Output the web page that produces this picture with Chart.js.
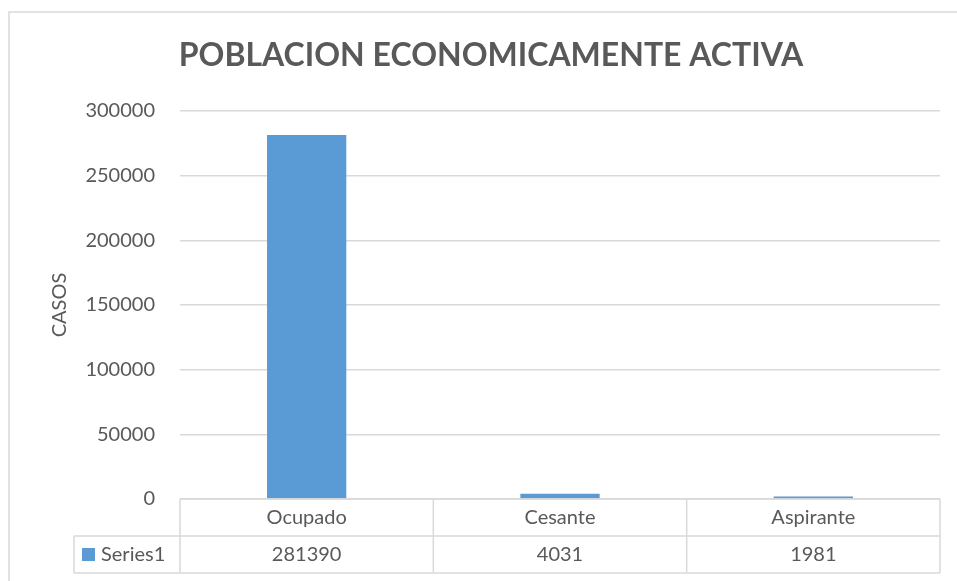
<!DOCTYPE html>
<html>
<head>
<meta charset="utf-8">
<script src="https://cdn.jsdelivr.net/npm/chart.js@4"></script>
<style>
  html, body { margin: 0; padding: 0; background: #fff; }
  #wrap { width: 957px; height: 581px; }
</style>
</head>
<body>
<div id="wrap"><canvas id="chart" width="957" height="581"></canvas></div>
<script>
const categories = ["Ocupado", "Cesante", "Aspirante"];
const series1 = [281390, 4031, 1981];
const yTicks = [0, 50000, 100000, 150000, 200000, 250000, 300000];
const chartTitle = "POBLACION ECONOMICAMENTE ACTIVA";

const textColor = "#595959";
const lineColor = "#d9d9d9";
const barColor = "#5b9bd5";
const fontFamily = "Lato, 'Open Sans', sans-serif";

// marco exterior y titulo
const frame = {
  id: "frame",
  beforeDraw(chart) {
    const ctx = chart.ctx;
    ctx.save();
    ctx.strokeStyle = lineColor;
    ctx.lineWidth = 1.5;
    ctx.strokeRect(9, 12, 960, 600);
    ctx.fillStyle = textColor;
    ctx.font = "bold 32px " + fontFamily;
    ctx.textAlign = "center";
    ctx.textBaseline = "middle";
    ctx.fillText(chartTitle, 491, 56);
    ctx.restore();
  }
};

// tabla de datos bajo el eje x
const dataTable = {
  id: "dataTable",
  afterDraw(chart) {
    const ctx = chart.ctx;
    const area = chart.chartArea;
    const x = chart.scales.x;
    const rowH = 37;
    const top = area.bottom;
    const mid = top + rowH;
    const bot = mid + rowH;
    const legendLeft = 74;
    const step = (area.right - area.left) / categories.length;

    ctx.save();
    ctx.strokeStyle = lineColor;
    ctx.lineWidth = 1.5;
    ctx.beginPath();
    ctx.moveTo(area.left, top); ctx.lineTo(area.right, top);
    ctx.moveTo(legendLeft, mid); ctx.lineTo(area.right, mid);
    ctx.moveTo(legendLeft, bot); ctx.lineTo(area.right, bot);
    ctx.moveTo(legendLeft, mid); ctx.lineTo(legendLeft, bot);
    for (let i = 0; i <= categories.length; i++) {
      const px = area.left + i * step;
      ctx.moveTo(px, top); ctx.lineTo(px, bot);
    }
    ctx.stroke();

    ctx.fillStyle = textColor;
    ctx.font = "20px " + fontFamily;
    ctx.textAlign = "center";
    ctx.textBaseline = "middle";
    categories.forEach((c, i) => {
      const px = x.getPixelForValue(i);
      ctx.fillText(c, px, top + rowH / 2);
      ctx.fillText(String(series1[i]), px, mid + rowH / 2);
    });

    ctx.fillStyle = barColor;
    ctx.fillRect(82, mid + rowH / 2 - 6.5, 13, 13);
    ctx.fillStyle = textColor;
    ctx.textAlign = "left";
    ctx.fillText("Series1", 101, mid + rowH / 2);
    ctx.restore();
  }
};

new Chart(document.getElementById("chart"), {
  type: "bar",
  data: {
    labels: categories,
    datasets: [{
      label: "Series1",
      data: series1,
      backgroundColor: barColor,
      categoryPercentage: 1,
      barPercentage: 0.313
    }]
  },
  options: {
    responsive: false,
    animation: false,
    layout: { padding: { left: 0, right: 17, top: 111, bottom: 82 } },
    plugins: {
      legend: { display: false },
      tooltip: { enabled: false },
      title: { display: false }
    },
    scales: {
      x: { display: false },
      y: {
        min: 0,
        max: 300000,
        afterFit(scale) { scale.width = 180; },
        afterBuildTicks(scale) { scale.ticks = yTicks.map(v => ({ value: v })); },
        border: { display: false },
        grid: { color: lineColor, lineWidth: 1.5, drawTicks: false },
        ticks: {
          color: textColor,
          padding: 25,
          font: { family: fontFamily, size: 20 },
          callback: v => String(v)
        },
        title: {
          display: true,
          text: "CASOS",
          color: textColor,
          font: { family: fontFamily, size: 20 },
          padding: { top: 48, bottom: 0 }
        }
      }
    }
  },
  plugins: [frame, dataTable]
});
</script>
</body>
</html>
